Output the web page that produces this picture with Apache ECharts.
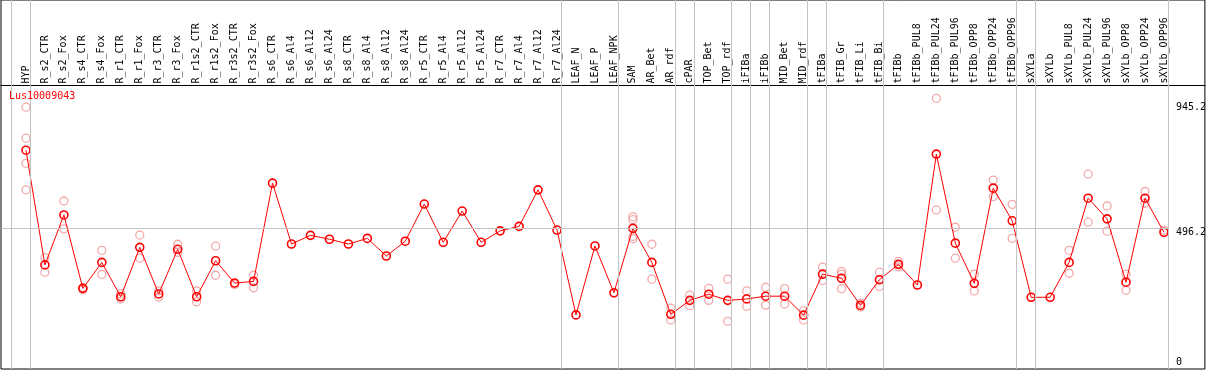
<!DOCTYPE html>
<html><head><meta charset="utf-8">
<script src="https://cdn.jsdelivr.net/npm/echarts@6/dist/echarts.min.js"></script>
<style>html,body{margin:0;padding:0;background:#fff}#c{width:1209px;height:370px}</style>
</head><body><div id="c"></div>
<script>
const categories = ["HYP","R_s2_CTR","R_s2_Fox","R_s4_CTR","R_s4_Fox","R_r1_CTR","R_r1_Fox","R_r3_CTR","R_r3_Fox","R_r1s2_CTR","R_r1s2_Fox","R_r3s2_CTR","R_r3s2_Fox","R_s6_CTR","R_s6_Al4","R_s6_Al12","R_s6_Al24","R_s8_CTR","R_s8_Al4","R_s8_Al12","R_s8_Al24","R_r5_CTR","R_r5_Al4","R_r5_Al12","R_r5_Al24","R_r7_CTR","R_r7_Al4","R_r7_Al12","R_r7_Al24","LEAF_N","LEAF_P","LEAF_NPK","SAM","AR_Bet","AR_rdf","cPAR","TOP_Bet","TOP_rdf","iFIBa","iFIBb","MID_Bet","MID_rdf","tFIBa","tFIB_Gr","tFIB_Li","tFIB_Bi","tFIBb","tFIBb_PUL8","tFIBb_PUL24","tFIBb_PUL96","tFIBb_OPP8","tFIBb_OPP24","tFIBb_OPP96","sXYLa","sXYLb","sXYLb_PUL8","sXYLb_PUL24","sXYLb_PUL96","sXYLb_OPP8","sXYLb_OPP24","sXYLb_OPP96"];
const means = [776,365,544,281,374,251,428,261,421,251,380,300,306,658,440,471,457,440,460,397,450,583,446,558,446,487,503,634,490,186,433,265,496,374,188,238,260,238,243,253,253,185,332,317,220,312,367,293,762,443,299,640,523,249,249,374,604,530,303,604,482];
const replicates = [
  [930,819,729,634],[391,339],[594,494],[284,276],[417,331],[261,243],[472,389],[272,250],[439,410],[272,233],[432,328],[295],[328,283],
  [],[],[],[],[],[],[],[],[],[],[],[],[],[],[],[],[],[],[],
  [537,527,467,459],[439,314],[210,168],[257,219],[281,238],[314,163],[272,217],[285,221],[280,225],[201,168],[357,309],[342,332,280],[228,214],[339,288],[378,358],
  [],[962,562],[500,389],[332,272],[669,610],[582,460],
  [249],[],[417,335],[690,518],[576,486],[332,274],[628,586],[490]
];
const yTickValues = [0, 496.2, 945.2];
const refValue = 496.2;
const geneName = "Lus10009043";
// group boundaries (index of first category after each group)
const groupBounds = [0,1,29,32,35,36,38,39,40,42,43,46,53,54,61];

// layout constants
const BAND_OFF = 15/19;
const X_MIN = -25/19, X_MAX = 1181/19;
const Y_MIN = -7.88, Y_MAX = 1314.1;
const FONT = 'DejaVu Sans Mono';

const lineData = means.map((v,i)=>[i,v]);
const repData = [];
replicates.forEach((arr,i)=>arr.forEach(v=>repData.push([i,v])));
const xLabelValues = categories.map((c,i)=>i);

const chart = echarts.init(document.getElementById('c'), null, {renderer:'canvas'});
chart.setOption({
  animation:false,
  backgroundColor:'#fff',
  title:{text:geneName,left:9,top:91,padding:0,textStyle:{color:'#ff0000',fontSize:10,fontFamily:FONT,fontWeight:'normal'}},
  grid:{left:1,right:2,top:0,bottom:1,show:true,borderColor:'#000',borderWidth:1,backgroundColor:'#fff'},
  xAxis:{type:'value',min:X_MIN,max:X_MAX,position:'top',offset:-85,
    axisLine:{show:true,onZero:false,lineStyle:{color:'#000',width:1}},
    axisTick:{show:false},splitLine:{show:false},
    axisLabel:{customValues:xLabelValues,rotate:-90,margin:1.5,color:'#000',fontSize:10,fontFamily:FONT,
      formatter:v=>categories[Math.round(v)]||''}},
  yAxis:{type:'value',min:Y_MIN,max:Y_MAX,position:'right',offset:-37,
    axisLine:{show:false,onZero:false},axisTick:{show:false},splitLine:{show:false},
    axisLabel:{customValues:yTickValues,margin:8,color:'#000',fontSize:10,fontFamily:FONT,
      formatter:v=>v===0?'{b|0}':'{a|'+v+'}',
      rich:{a:{padding:[8,0,0,0],fontSize:10,fontFamily:FONT,color:'#000'},b:{padding:[0,0,8,0],fontSize:10,fontFamily:FONT,color:'#000'}}}},
  series:[
    {type:'scatter',z:2,data:repData,symbol:'circle',symbolSize:8,silent:true,
      itemStyle:{color:'rgba(0,0,0,0)',borderColor:'#f09494',borderWidth:1.3},
      markLine:{silent:true,symbol:['none','none'],label:{show:false},animation:false,
        lineStyle:{color:'#c4c4c4',width:1,type:'solid'},
        data:groupBounds.map(k=>({xAxis:k-BAND_OFF})).concat([[{coord:[X_MIN,refValue]},{coord:[61-BAND_OFF,refValue]}]])}},
    {type:'line',z:3,data:lineData,symbol:'circle',symbolSize:8,showSymbol:true,silent:true,
      lineStyle:{color:'#ff0000',width:1},
      itemStyle:{color:'rgba(0,0,0,0)',borderColor:'#ff0000',borderWidth:1.6}}
  ]
});
</script></body></html>
